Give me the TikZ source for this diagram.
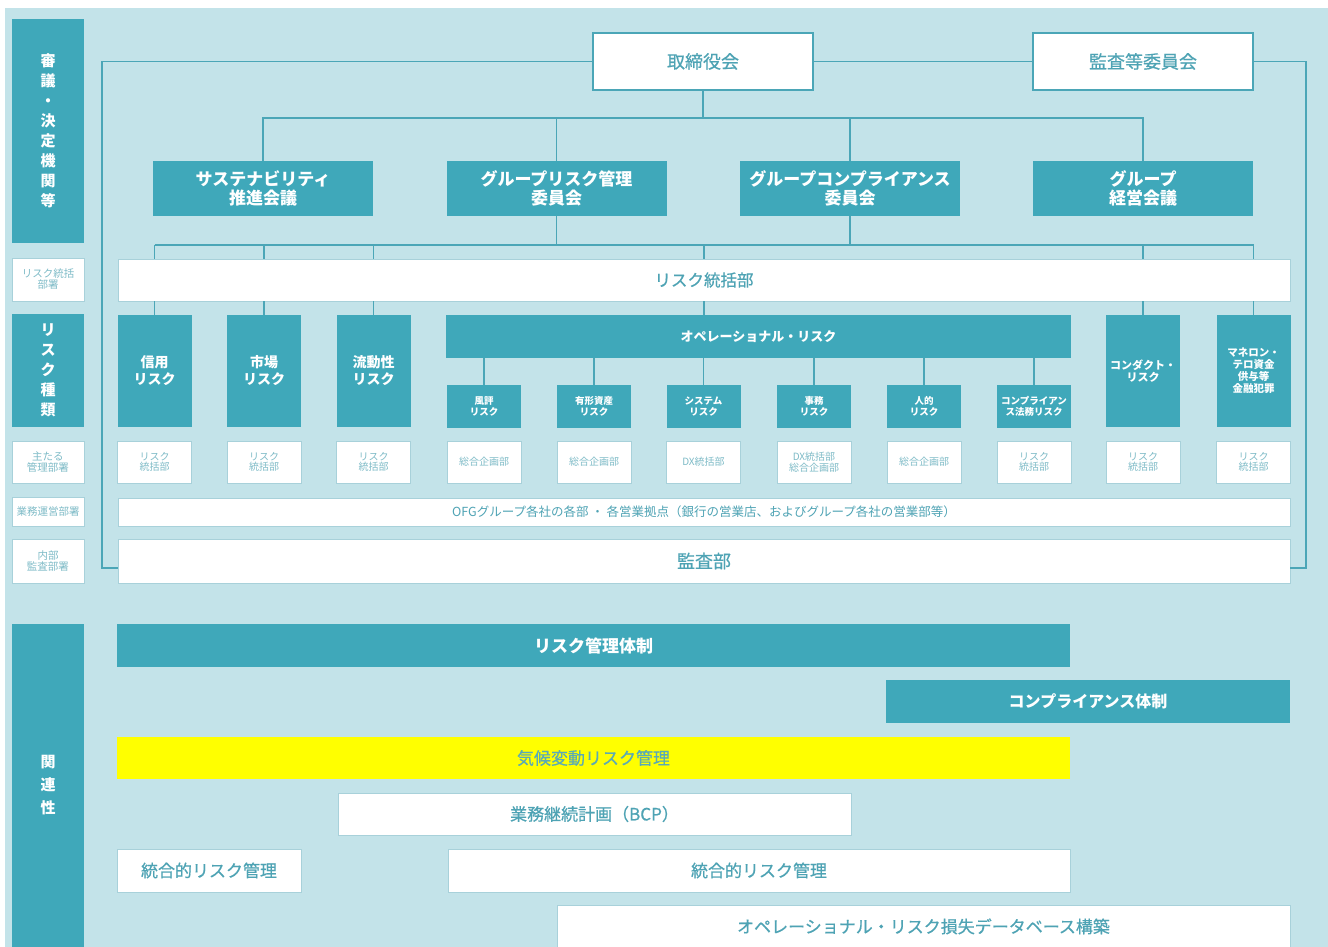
\documentclass[tikz,border=0pt]{standalone}
\usepackage{fontspec}
\setmainfont{Noto Sans CJK JP}
\newfontfamily\medfont{Noto Sans CJK JP}[FakeBold=0.6]
\usetikzlibrary{positioning}

\definecolor{bgblue}{HTML}{C3E3E9}
\definecolor{tealfill}{HTML}{3FA8BA}
\definecolor{linecol}{HTML}{4BA6B7}
\definecolor{txtteal}{HTML}{4EA3B4}
\definecolor{txtpale}{HTML}{7EBBC7}
\definecolor{edgecol}{HTML}{A8D1DA}
\definecolor{climyel}{HTML}{FFFF00}
\definecolor{climtxt}{HTML}{5AAAB6}

\newcommand\fsz[2]{\fontsize{#1}{#2}\selectfont}

\tikzset{
  tealbox/.style={fill=tealfill, text=white, inner sep=0pt, align=center},
  whitebox/.style={fill=white, draw=edgecol, line width=0.8pt, text=txtteal, inner sep=0pt, align=center},
  headbox/.style={fill=white, draw=linecol, line width=1.4pt, text=txtteal, inner sep=0pt},
  conn/.style={draw=linecol, line width=1.1pt},
  sz/.style 2 args={minimum width=#1pt, minimum height=#2pt},
}

\begin{document}
\begin{tikzpicture}[x=1pt, y=-1pt]

\useasboundingbox (0,0) rectangle (1328,947);
% background
\fill[white] (0,0) rectangle (1328,947);
\fill[bgblue] (5,8) rectangle (1328,947);

% left column labels
\node[tealbox, sz={72}{224}, font=\bfseries\fsz{15}{20}] (labdecide) at (48,131) {審\\議\\・\\決\\定\\機\\関\\等};
\node[whitebox, sz={72}{43}, text=txtpale, font=\fsz{10.5}{11}] (laboffice) at (48,279.5) {リスク統括\\部署};
\node[tealbox, sz={72}{113}, font=\bfseries\fsz{15}{20}] (labtype) at (48,370.5) {リ\\ス\\ク\\種\\類};
\node[whitebox, sz={72}{42}, text=txtpale, font=\fsz{10.5}{11}] (labmain) at (48,462) {主たる\\管理部署};
\node[whitebox, sz={72}{29}, text=txtpale, font=\fsz{10.5}{11}] (labops) at (48,511.5) {業務運営部署};
\node[whitebox, sz={72}{44}, text=txtpale, font=\fsz{10.5}{11}] (labaudit) at (48,561) {内部\\監査部署};
\node[tealbox, sz={72}{323}, font=\bfseries\fsz{15}{23}] (labrel) at (48,785.5) {関\\連\\性};

% board and audit committee
\node[headbox, sz={220}{57}, font=\medfont\fsz{18}{20}] (board) at (703,61.5) {取締役会};
\node[headbox, sz={220}{57}, font=\medfont\fsz{18}{20}] (audcom) at (1143,61.5) {監査等委員会};

% committees
\node[tealbox, sz={220}{55}, font=\bfseries\fsz{17}{19}] (sus) at (263,188.5) {サステナビリティ\\推進会議};
\node[tealbox, sz={220}{55}, font=\bfseries\fsz{17}{19}] (grm) at (556.5,188.5) {グループリスク管理\\委員会};
\node[tealbox, sz={220}{55}, font=\bfseries\fsz{17}{19}] (gcc) at (850,188.5) {グループコンプライアンス\\委員会};
\node[tealbox, sz={220}{55}, font=\bfseries\fsz{17}{19}] (gmc) at (1143,188.5) {グループ\\経営会議};

% risk office
\node[whitebox, sz={1172}{42}, font=\medfont\fsz{16.5}{18}] (rmd) at (704,280) {リスク統括部};

% risk types
\node[tealbox, sz={74}{112}, font=\bfseries\fsz{14}{17}] (credit) at (154.5,371) {信用\\リスク};
\node[tealbox, sz={74}{112}, font=\bfseries\fsz{14}{17}] (market) at (264,371) {市場\\リスク};
\node[tealbox, sz={74}{112}, font=\bfseries\fsz{14}{17}] (liquid) at (373.5,371) {流動性\\リスク};
\node[tealbox, sz={74}{112}, font=\bfseries\fsz{11}{12}] (conduct) at (1143,371) {コンダクト・\\リスク};
\node[tealbox, sz={74}{112}, font=\bfseries\fsz{10.5}{12}] (maneron) at (1253.5,371) {マネロン・\\テロ資金\\供与等\\金融犯罪};
\node[tealbox, sz={625}{43}, font=\bfseries\fsz{13}{14}] (oper) at (758.5,336.5) {オペレーショナル・リスク};

% operational risk subtypes
\foreach \nm/\cx/\txt in {rep/484/{風評\\リスク}, tang/594/{有形資産\\リスク}, sys/703.5/{システム\\リスク},
    admin/814/{事務\\リスク}, human/924/{人的\\リスク}, legal/1034/{コンプライアン\\ス法務リスク}}
  \node[tealbox, sz={74}{43}, font=\bfseries\fsz{9.5}{10.5}] (\nm) at (\cx,406.5) {\txt};

% main departments
\foreach \nm/\cx/\txt in {credit/154.5/{リスク\\統括部}, market/264/{リスク\\統括部}, liquid/373.5/{リスク\\統括部},
    rep/484/{総合企画部}, tang/594/{総合企画部}, sys/703.5/{DX統括部}, admin/814/{DX統括部\\総合企画部},
    human/924/{総合企画部}, legal/1034/{リスク\\統括部}, conduct/1143/{リスク\\統括部}, maneron/1253.5/{リスク\\統括部}}
  \node[whitebox, sz={74}{42}, text=txtpale, font=\fsz{10}{10.5}] (dept-\nm) at (\cx,462) {\txt};

% business units and internal audit
\node[whitebox, sz={1172}{28}, font=\fsz{12.5}{14}] (ofg) at (704,512) {OFGグループ各社の各部 ・ 各営業拠点（銀行の営業店、およびグループ各社の営業部等）};
\node[whitebox, sz={1172}{44}, font=\medfont\fsz{18}{20}] (audit) at (704,561) {監査部};

% relations
\node[tealbox, sz={953}{43}, font=\bfseries\fsz{17}{19}] (rmsys) at (593.5,645.5) {リスク管理体制};
\node[tealbox, sz={404}{43}, font=\bfseries\fsz{16}{18}] (compsys) at (1088,701.5) {コンプライアンス体制};
\node[fill=climyel, inner sep=0pt, sz={953}{42}, text=climtxt, font=\medfont\fsz{17}{19}] (climate) at (593.5,758) {気候変動リスク管理};
\node[whitebox, sz={513}{42}, font=\medfont\fsz{17}{19}] (bcp) at (594.5,814) {業務継続計画（BCP）};
\node[whitebox, sz={184}{43}, font=\medfont\fsz{17}{19}] (ermA) at (209,870.5) {統合的リスク管理};
\node[whitebox, sz={622}{43}, font=\medfont\fsz{17}{19}] (ermB) at (759,870.5) {統合的リスク管理};
\node[whitebox, sz={733}{42}, font=\medfont\fsz{17}{19}, anchor=north] (opdb) at (923.5,905) {オペレーショナル・リスク損失データベース構築};

% board to committees
\coordinate (busA) at (0,118);
\coordinate (busB) at (0,245);
\draw[conn] (board.south) -- (board.south |- busA);
\draw[conn] (sus.north) -- (sus.north |- busA) -- (gmc.north |- busA) -- (gmc.north);
\foreach \nm in {grm,gcc} \draw[conn] (\nm.north) -- (\nm.north |- busA);

% committees down to the risk types
\draw[conn] (credit.north |- busB) -- (maneron.north |- busB);
\foreach \nm in {grm,gcc} \draw[conn] (\nm.south) -- (\nm.south |- busB);
\foreach \nm in {credit,market,liquid,conduct,maneron} {
  \draw[conn] (\nm.north |- busB) -- (\nm.north |- rmd.north);
  \draw[conn] (\nm.north |- rmd.south) -- (\nm.north);
}
\draw[conn] (rmd.north |- busB) -- (rmd.north);
\draw[conn] (rmd.south) -- (rmd.south |- oper.north);

% operational risk subtypes
\foreach \nm in {rep,tang,sys,admin,human,legal} \draw[conn] (oper.south -| \nm.north) -- (\nm.north);

% outer loop to audit
\coordinate (lcorner) at (102,568);
\coordinate (rcorner) at (1306,568);
\draw[conn] (board.west) -| (lcorner) -- (lcorner -| audit.west);
\draw[conn] (board.east) -- (audcom.west);
\draw[conn] (audcom.east) -| (rcorner) -- (rcorner -| audit.east);

\end{tikzpicture}
\end{document}
